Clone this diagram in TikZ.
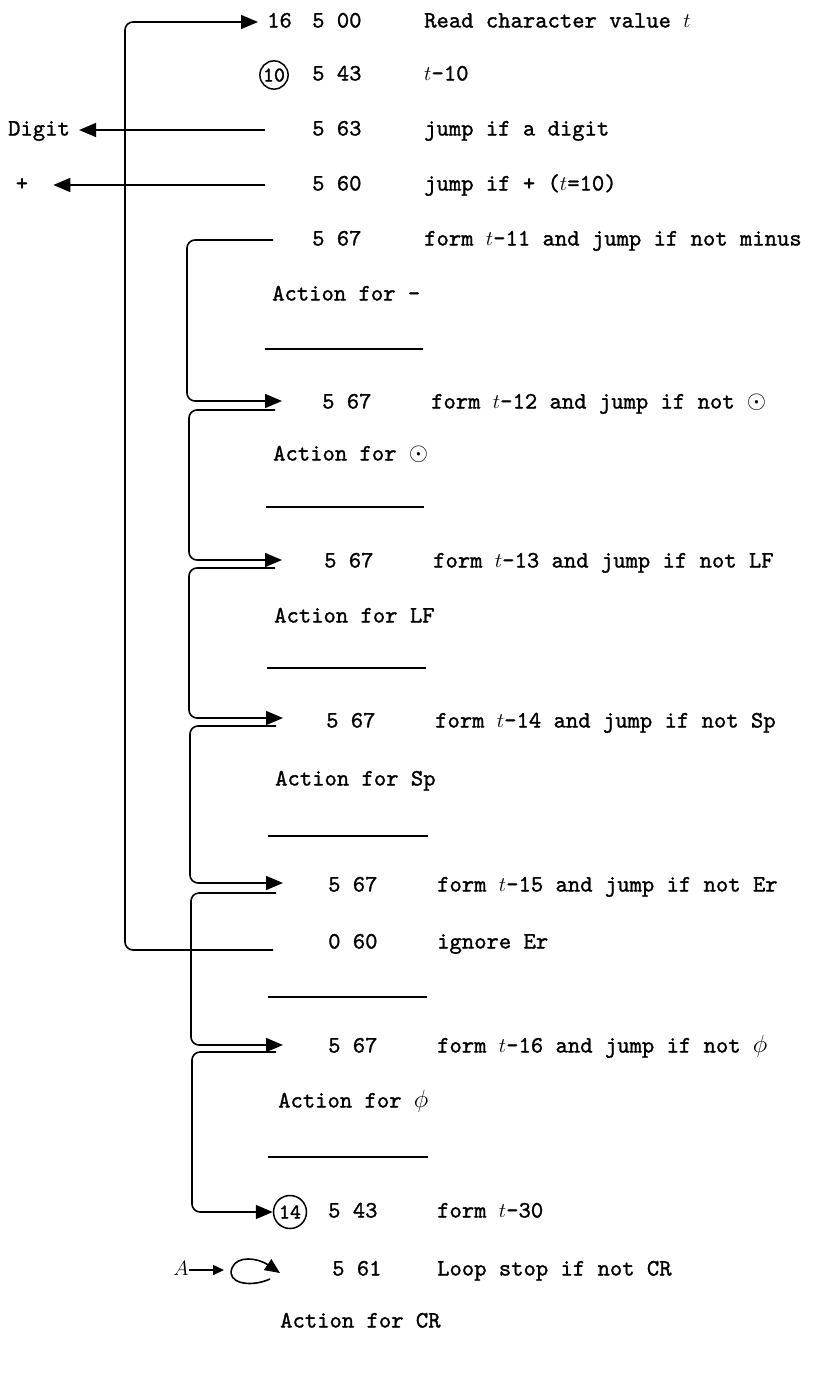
\documentclass[tikz,border=0pt]{standalone}
\usepackage{fontspec}
\usetikzlibrary{arrows.meta}
\newfontfamily\twfam{lmmono10-regular.otf}[FakeBold=1.2]
\newcommand{\twfont}{\twfam\fontsize{23.5}{28}\selectfont}
\newcommand{\tv}{{\fontsize{20}{22}\selectfont$t$}}
\tikzset{
  every node/.style={font=\twfont, inner sep=0pt, text height=15pt, text depth=4pt},
  lbl/.style={anchor=west},
  conn/.style={line width=1.6pt, rounded corners=8pt},
  arr/.style={conn, -{Triangle[length=17pt,width=14pt]}},
  arrsmall/.style={line width=1.6pt, -{Triangle[length=11pt,width=10pt]}},
  rulel/.style={line width=1.6pt},
  circ/.style={draw, circle, line width=1.5pt, font=\twfam\fontsize{21}{22}\selectfont, text height=13pt, text depth=0pt, inner sep=1pt}
}
\begin{document}
\begin{tikzpicture}[x=1pt,y=-1pt]
\useasboundingbox (0,0) rectangle (812,1373);

% Row 1
\node[lbl] (n16) at (267,22) {16};
\node[lbl] (c1) at (312,22) {5 00};
\node[lbl] (t1) at (424,22) {Read character value \tv};
% Row 2
\node[circ, minimum size=26pt] (k10) at (274,75) {10};
\node[lbl] (c2) at (312,75) {5 43};
\node[lbl] (t2) at (424,75) {\tv-10};
% Row 3
\node[lbl] (dig) at (8,130) {Digit};
\node[lbl] (c3) at (312,130) {5 63};
\node[lbl] (t3) at (424,130) {jump if a digit};
\coordinate (s3) at (265,130);
\draw[arr, shorten >=9pt] (s3) -- (dig);
% Row 4
\node (plus) at (22,185) {+};
\node[lbl] (c4) at (312,185) {5 60};
\node[lbl] (t4) at (424,185) {jump if + (\tv=10)};
\coordinate (s4) at (265,185);
\draw[arr, shorten >=25pt] (s4) -- (plus);
% Row 5
\node[lbl] (c5) at (312,240) {5 67};
\node[lbl] (t5) at (424,240) {form \tv-11 and jump if not minus};
\coordinate (s5) at (273,240);
\node[lbl] (a1) at (272,295) {Action for -};
\draw[rulel] (265,349) -- (423,349);
% Row 6
\coordinate (e6) at (282,401);
\node[lbl] (c6) at (322,403) {5 67};
\node[lbl] (t6) at (431,403) {form \tv-12 and jump if not $\odot$};
\draw[arr] (s5) -- ++(-86,0) |- (e6);
\coordinate (s6) at (275,410);
\node[lbl] (a2) at (273,455) {Action for $\odot$};
\draw[rulel] (266,507) -- (424,507);
% Row 7
\coordinate (e7) at (282,560);
\node[lbl] (c7) at (324,562) {5 67};
\node[lbl] (t7) at (433,562) {form \tv-13 and jump if not LF};
\draw[arr] (s6) -- ++(-86,0) |- (e7);
\coordinate (s7) at (275,568);
\node[lbl] (a3) at (274,617) {Action for LF};
\draw[rulel] (267,668) -- (426,668);
% Row 8
\coordinate (e8) at (283,718);
\node[lbl] (c8) at (326,722) {5 67};
\node[lbl] (t8) at (435,722) {form \tv-14 and jump if not Sp};
\draw[arr] (s7) -- ++(-86,0) |- (e8);
\coordinate (s8) at (276,726);
\node[lbl] (a4) at (275,780) {Action for Sp};
\draw[rulel] (268,836) -- (428,836);
% Row 9
\coordinate (e9) at (283,883);
\node[lbl] (c9) at (328,886) {5 67};
\node[lbl] (t9) at (437,886) {form \tv-15 and jump if not Er};
\draw[arr] (s8) -- ++(-86,0) |- (e9);
\coordinate (s9) at (276,893);
% Row 10
\node[lbl] (c10) at (328,943) {0 60};
\node[lbl] (t10) at (437,943) {ignore Er};
\coordinate (s10) at (273,950);
\draw[arr, shorten >=9pt] (s10) -- ++(-148,0) |- (n16.west);
\draw[rulel] (268,997) -- (427,997);
% Row 11
\coordinate (e11) at (283,1045);
\node[lbl] (c11) at (328,1047) {5 67};
\node[lbl] (t11) at (437,1047) {form \tv-16 and jump if not $\phi$};
\draw[arr] (s9) -- ++(-85,0) |- (e11);
\coordinate (s11) at (276,1052);
\node[lbl] (a6) at (278,1102) {Action for $\phi$};
\draw[rulel] (268,1157) -- (428,1157);
% Row 12
\node[circ, minimum size=33pt] (k14) at (290,1212) {14};
\node[lbl] (c12) at (328,1212) {5 43};
\node[lbl] (t12) at (437,1212) {form \tv-30};
\draw[arr] (s11) -- ++(-84,0) |- (k14.west);
% Row 13
\node (nA) at (181,1270) {\fontsize{20}{22}\selectfont$A$};
\coordinate (lp) at (224,1270);
\draw[arrsmall] (nA) -- (lp);
\draw[line width=1.6pt, -{Triangle[length=15pt,width=13pt]}]
  (270,1279) .. controls (250,1288) and (226,1283) .. (232,1268)
  .. controls (237,1255) and (258,1258) .. (280,1273);
\node[lbl] (c13) at (332,1270) {5 61};
\node[lbl] (t13) at (437,1270) {Loop stop if not CR};
\node[lbl] (a7) at (280,1322) {Action for CR};
\end{tikzpicture}
\end{document}
